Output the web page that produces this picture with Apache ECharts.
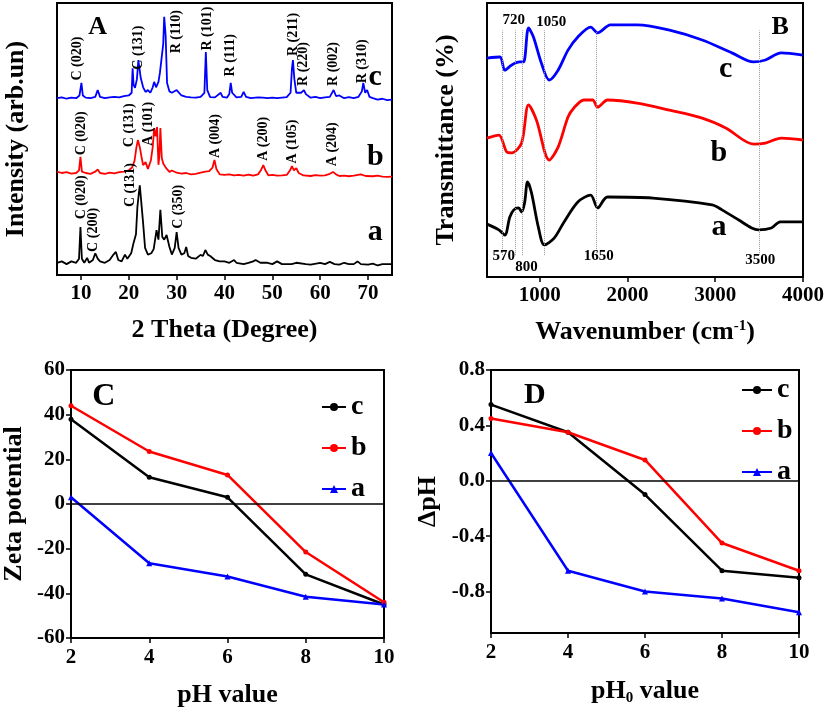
<!DOCTYPE html>
<html><head><meta charset="utf-8">
<script src="https://cdn.jsdelivr.net/npm/echarts@6/dist/echarts.min.js"></script>
<style>html,body{margin:0;padding:0;background:#fff}#c{width:827px;height:711px}</style>
</head><body><div id="c"></div>
<script>
// ---------- Panel A: XRD ----------
const xrdA = [[5,4.5],[6,5],[7,4],[8,5],[9,4.5],[9.6,6],[9.9,17.6],[10.2,6],[10.7,4.5],[11.3,6.3],[11.7,4.5],[12.5,5.5],[13,8],[13.5,6],[14,5],[15,4.5],[16,5.5],[16.8,7.5],[17.3,8.5],[17.8,5.5],[18.5,5],[19.2,7.5],[19.7,6],[20.5,8],[21,11.8],[21.5,15],[21.8,25],[22.1,30],[22.3,33],[22.6,27],[23,19],[23.4,10],[24,7.5],[24.7,8],[25.2,9.5],[25.8,16.5],[26.2,13],[26.6,24],[27,14],[27.4,13],[27.9,14.7],[28.5,10.3],[29,7.5],[29.6,10],[30,15.8],[30.4,10],[31,7.5],[31.6,8],[32,10.3],[32.4,7],[33,6.3],[34,6],[35,7.4],[35.5,7],[36,9.2],[36.5,7.5],[37,7],[38,5.5],[39,5],[40,5],[41,4.5],[42,5.5],[42.5,4.5],[44,4],[45,4.5],[46,5],[46.5,5.5],[47.5,4.5],[49,4.5],[50,4],[51,5],[52,4],[54,4],[55,4.5],[57,4],[58,3.8],[60,4.5],[61,4],[62,4.8],[63,4],[64,3.8],[65,4.5],[66,4],[67,4],[67.8,5],[68.5,4],[70,3.8],[71,4.2],[72,3.5],[73,4],[74,4],[75,4]];
const xrdB = [[5,38],[6,37.5],[7,37.8],[8,37.3],[9,37.5],[9.6,38.5],[9.9,43.4],[10.2,38],[11,37.5],[12,37.2],[13,38],[13.5,38.8],[14,37.5],[15,37.2],[16,37.6],[17,37.4],[18,37.8],[19,38],[20,38.5],[20.7,39.5],[21.2,42],[21.6,47],[21.9,49.6],[22.3,47],[22.7,43],[23,40.4],[23.5,41.5],[24,39],[24.6,42],[25,47],[25.3,54],[25.6,51],[25.9,54.4],[26.2,40.5],[26.4,44],[26.6,54],[26.9,43],[27.2,41],[27.8,39.3],[28.5,37.9],[29,38.4],[30,37.6],[31,37.3],[32,37.5],[33,37],[34,37.2],[35,37.6],[36,38],[36.8,38.2],[37.5,39.5],[37.9,42.3],[38.3,39],[39,37],[40,36.8],[41,37],[42,36.6],[43,36.8],[44,36.5],[45,36.9],[46,36.5],[47,37],[47.6,38.5],[48.1,40.4],[48.6,38.3],[49.2,36.6],[50,36.8],[51,36.5],[52,36.6],[53,36.8],[53.7,38.5],[54.1,40],[54.5,38.5],[55,39.3],[55.5,37.5],[56.5,36.6],[58,36.4],[59,36.7],[60,36.5],[61,36.6],[62,37.2],[62.7,37.9],[63.3,37],[64,36.4],[65,36.5],[66,36.3],[67,36.5],[68.5,37],[69.5,36.4],[71,36.3],[72,36.5],[73,36.2],[74,36.1],[75,36.2]];
const xrdC = [[5,65],[6,65.3],[7,64.8],[8,65.2],[9,65],[9.7,66],[10.1,70.6],[10.4,66],[11,65.2],[12,65],[13,65.5],[13.5,68],[14,65.5],[15,65],[16,65.3],[17,65.5],[18,65.3],[19,65.8],[20,66],[20.6,67],[20.8,76],[21,70],[21.3,68.8],[21.7,72],[22,79],[22.5,72.4],[23,69],[23.5,67.3],[24,68],[24.5,67],[25,69],[25.3,71],[25.7,69],[26.2,71],[26.5,74.3],[26.9,75],[27.2,85],[27.4,94.9],[27.7,88],[28,70.6],[28.5,67.5],[29,67],[30,68],[31,66],[32,65.5],[33,65.3],[34,65.2],[35,65.5],[35.8,67],[36.1,82],[36.4,68],[37,65.4],[38,65.3],[39.2,67],[39.6,65.5],[40.5,65.2],[41,66.5],[41.3,70.6],[41.6,67],[42.5,65.3],[43.5,65.5],[44,67.3],[44.5,65.5],[45.5,65],[47,65.3],[48,65.2],[49,65],[50,65.2],[51,65],[52,65.2],[53,65.4],[53.8,67],[54.1,76],[54.3,79],[54.6,72],[55,67],[56,67],[56.6,68],[57,66.5],[58,65.2],[59,65.5],[60,65],[61,65.3],[62,65.5],[62.8,68],[63.3,65.8],[64,66],[65,65],[66,65.4],[67,65],[68,65.5],[68.7,67.5],[69,70.6],[69.4,67],[69.8,68],[70.3,65.5],[71,65],[72,64.5],[73,64.8],[74,64.3],[75,64.5]];
const xrdTicks = [10,20,30,40,50,60,70];
const xrdPeakLabels = [
  [9.2,71.5,'C (020)'],[22.1,75.5,'C (131)'],[30,81.5,'R (110)'],[36.5,82.5,'R (101)'],[41.25,73,'R (111)'],
  [54.4,80.5,'R (211)'],[56.5,69.5,'R (220)'],[62.7,69.5,'R (002)'],[68.75,70.5,'R (310)'],
  [10,44,'C (020)'],[20.2,47,'C (131)'],[24,47.5,'A (101)'],[38.1,43,'A (004)'],[48.1,42,'A (200)'],[54.2,41,'A (105)'],[62.5,40,'A (204)'],
  [10.2,20.5,'C (020)'],[12.5,8.5,'C (200)'],[20.4,25,'C (131)'],[30.4,17,'C (350)']
];
const xrdTexts = [[13.5,91,'A',26],[71.5,72.8,'c',30],[71.5,43.4,'b',30],[71.5,15.8,'a',30]];

// ---------- Panel B: FTIR ----------
const ftirC = [[400,79.9],[547,80.3],[603,75.5],[682,77.4],[772,78.5],[817,78.5],[873,90.9],[929,87.6],[1019,78.1],[1109,71.9],[1210,75.5],[1323,82.8],[1435,87.6],[1581,91.2],[1660,89.1],[1806,92.0],[2110,92.0],[2480,90.1],[2852,86.5],[3190,81.8],[3437,78.5],[3572,79.2],[3752,81.8],[4000,81.0]];
const ftirB = [[400,50.7],[535,51.8],[626,45.6],[682,45.3],[794,48.9],[873,62.8],[963,57.3],[1109,42.7],[1210,47.4],[1323,58.4],[1390,61.7],[1503,64.6],[1604,64.6],[1660,62.0],[1773,64.6],[2110,63.5],[2480,60.9],[2852,58.0],[3120,54.4],[3437,48.5],[3572,48.9],[3752,50.7],[4000,50.0]];
const ftirA = [[400,19.3],[535,17.2],[603,15.3],[660,21.9],[705,24.5],[760,25.2],[794,23.7],[828,27.0],[862,34.7],[907,30.7],[985,18.2],[1053,11.7],[1165,14.2],[1278,20.1],[1435,27.4],[1581,29.9],[1660,25.2],[1773,29.2],[2290,28.8],[2965,26.3],[3077,24.5],[3268,20.8],[3415,17.9],[3493,17.2],[3640,17.9],[3740,20.1],[4000,20.1]];
const ftirTicks = [1000,2000,3000,4000];
const ftirBands = [570,720,800,1050,1650,3500];
const ftirBandLabels = [[704,93.8,'720'],[1132,93,'1050'],[592,7.7,'570'],[850,3.6,'800'],[1672,7.7,'1650'],[3514,6.2,'3500']];
const ftirTexts = [[3740,91,'B',26],[3120,76,'c',30],[3042,45,'b',30],[3042,18,'a',30]];

// ---------- Panel C: Zeta ----------
const phC = [2,4,6,8,10];
const zetaC = [38,12,3,-31.5,-45];
const zetaB = [44,23.5,13,-21.5,-44];
const zetaA = [3,-26.5,-32.5,-41.5,-45];

// ---------- Panel D: delta pH ----------
const phD = [2,4,6,8,10];
const dpHC = [0.55,0.35,-0.10,-0.65,-0.70];
const dpHB = [0.45,0.35,0.15,-0.45,-0.65];
const dpHA = [0.20,-0.65,-0.80,-0.85,-0.95];
const dpHTicks = [-0.8,-0.4,0,0.4,0.8];

const F = 'Liberation Serif';
const BLACK = '#000000', RED = '#ff0000', BLUE = '#0000ff';

const axisLine = {show:true, onZero:false, lineStyle:{color:'#000', width:2}};
const tick = {show:true, length:5, inside:false, lineStyle:{color:'#000', width:1.5}};
const tickLabel = {color:'#000', fontFamily:F, fontWeight:'bold', fontSize:21};
const nameStyle = {color:'#000', fontFamily:F, fontWeight:'bold', fontSize:26};

function textSeries(arr, xi, yi, opts) {
  return {
    type:'scatter', xAxisIndex:xi, yAxisIndex:yi, symbolSize:0, silent:true, z:10,
    itemStyle:{opacity:1},
    data: arr.map(t => ({value:[t[0], t[1]], name:t[2]})),
    label: Object.assign({show:true, position:'inside', formatter:'{b}', color:'#000', fontFamily:F, fontWeight:'bold'}, opts)
  };
}
function bigTextSeries(arr, xi, yi) {
  return {
    type:'scatter', xAxisIndex:xi, yAxisIndex:yi, symbolSize:0, silent:true, z:10,
    itemStyle:{opacity:1},
    data: arr.map(t => ({value:[t[0], t[1]], name:t[2], label:{fontSize:t[3], fontWeight:'bold', color:'#000'}})),
    label: {show:true, position:'inside', formatter:'{b}', color:'#000', fontFamily:F, fontWeight:'bold', align:'center', verticalAlign:'middle'}
  };
}

const option = {
  backgroundColor:'#fff',
  animation:false,
  grid:[
    {left:57, top:3, width:335, height:272, show:true, borderColor:'#000', borderWidth:2},
    {left:487, top:3, width:318, height:274, show:true, borderColor:'#000', borderWidth:2},
    {left:70, top:370, width:314, height:268, show:true, borderColor:'#000', borderWidth:2},
    {left:491, top:370, width:308, height:263, show:true, borderColor:'#000', borderWidth:2}
  ],
  xAxis:[
    {gridIndex:0, type:'value', min:5, max:75, axisLine, axisTick:Object.assign({customValues:xrdTicks}, tick),
     axisLabel:Object.assign({customValues:xrdTicks, margin:8}, tickLabel), splitLine:{show:false},
     name:'2 Theta (Degree)', nameLocation:'middle', nameGap:42, nameTextStyle:nameStyle},
    {gridIndex:1, type:'value', min:400, max:4000, axisLine, axisTick:Object.assign({customValues:ftirTicks}, tick),
     axisLabel:Object.assign({customValues:ftirTicks, margin:8, formatter:v => String(v)}, tickLabel), splitLine:{show:false},
     name:'{a|Wavenumber (cm}{s|-1}{a|)}', nameLocation:'middle', nameGap:42,
     nameTextStyle:{rich:{a:nameStyle, s:{color:'#000', fontFamily:F, fontWeight:'bold', fontSize:15, verticalAlign:'top', padding:[0,0,12,0]}}}},
    {gridIndex:2, type:'value', min:2, max:10, interval:2, axisLine, axisTick:tick,
     axisLabel:Object.assign({margin:9}, tickLabel), splitLine:{show:false},
     name:'pH value', nameLocation:'middle', nameGap:44, nameTextStyle:nameStyle},
    {gridIndex:3, type:'value', min:2, max:10, interval:2, axisLine, axisTick:tick,
     axisLabel:Object.assign({margin:9}, tickLabel), splitLine:{show:false},
     name:'{a|pH}{s|0}{a| value}', nameLocation:'middle', nameGap:44,
     nameTextStyle:{rich:{a:nameStyle, s:{color:'#000', fontFamily:F, fontWeight:'bold', fontSize:15, padding:[14,0,0,0]}}}}
  ],
  yAxis:[
    {gridIndex:0, type:'value', min:0, max:100, axisLine, axisTick:{show:false}, axisLabel:{show:false}, splitLine:{show:false},
     name:'Intensity (arb.un)', nameLocation:'middle', nameGap:28, nameTextStyle:nameStyle},
    {gridIndex:1, type:'value', min:0, max:100, axisLine, axisTick:{show:false}, axisLabel:{show:false}, splitLine:{show:false},
     name:'Transmittance (%)', nameLocation:'middle', nameGap:28, nameTextStyle:nameStyle},
    {gridIndex:2, type:'value', min:-60, max:60, interval:20, axisLine, axisTick:tick,
     axisLabel:Object.assign({margin:6}, tickLabel), splitLine:{show:false},
     name:'Zeta potential', nameLocation:'middle', nameGap:44, nameTextStyle:nameStyle},
    {gridIndex:3, type:'value', min:-1.1, max:0.8, axisLine, axisTick:Object.assign({customValues:dpHTicks}, tick),
     axisLabel:Object.assign({customValues:dpHTicks, margin:6, formatter:v => v.toFixed(1)}, tickLabel), splitLine:{show:false},
     name:'ΔpH', nameLocation:'middle', nameGap:50, nameTextStyle:nameStyle}
  ],
  legend:[
    {data:['c','b','a'], orient:'vertical', left:316, top:388, itemWidth:24, itemHeight:10, itemGap:13,
     textStyle:{color:'#000', fontFamily:F, fontWeight:'bold', fontSize:28}, selectedMode:false},
    {data:['c','b','a'], orient:'vertical', left:736, top:371, itemWidth:30, itemHeight:10, itemGap:13,
     textStyle:{color:'#000', fontFamily:F, fontWeight:'bold', fontSize:28}, selectedMode:false}
  ],
  series:[
    // XRD
    {type:'line', name:'XRD a', xAxisIndex:0, yAxisIndex:0, data:xrdA, showSymbol:false, lineStyle:{color:BLACK, width:1.8}, itemStyle:{color:BLACK}},
    {type:'line', name:'XRD b', xAxisIndex:0, yAxisIndex:0, data:xrdB, showSymbol:false, lineStyle:{color:RED, width:1.8}, itemStyle:{color:RED}},
    {type:'line', name:'XRD c', xAxisIndex:0, yAxisIndex:0, data:xrdC, showSymbol:false, lineStyle:{color:BLUE, width:1.8}, itemStyle:{color:BLUE}},
    textSeries(xrdPeakLabels, 0, 0, {rotate:90, align:'left', verticalAlign:'middle', fontSize:14}),
    bigTextSeries(xrdTexts, 0, 0),
    // FTIR
    {type:'line', name:'FTIR c', xAxisIndex:1, yAxisIndex:1, data:ftirC, smooth:0.3, showSymbol:false, lineStyle:{color:BLUE, width:2.8}, itemStyle:{color:BLUE},
     markLine:{silent:true, symbol:'none', label:{show:false}, lineStyle:{type:'dotted', color:'#999', width:1},
       data: ftirBands.map(b => [{coord:[b, 8]}, {coord:[b, 90]}])}},
    {type:'line', name:'FTIR b', xAxisIndex:1, yAxisIndex:1, data:ftirB, smooth:0.3, showSymbol:false, lineStyle:{color:RED, width:2.8}, itemStyle:{color:RED}},
    {type:'line', name:'FTIR a', xAxisIndex:1, yAxisIndex:1, data:ftirA, smooth:0.3, showSymbol:false, lineStyle:{color:BLACK, width:2.8}, itemStyle:{color:BLACK}},
    textSeries(ftirBandLabels, 1, 1, {align:'center', verticalAlign:'middle', fontSize:15}),
    bigTextSeries(ftirTexts, 1, 1),
    // Zeta
    {type:'line', name:'c', xAxisIndex:2, yAxisIndex:2, data:phC.map((x,i)=>[x,zetaC[i]]), symbol:'circle', symbolSize:5, lineStyle:{color:BLACK, width:2.5}, itemStyle:{color:BLACK},
     markLine:{silent:true, symbol:'none', label:{show:false}, lineStyle:{type:'solid', color:'#000', width:1.5}, data:[{yAxis:0}]}},
    {type:'line', name:'b', xAxisIndex:2, yAxisIndex:2, data:phC.map((x,i)=>[x,zetaB[i]]), symbol:'circle', symbolSize:5, lineStyle:{color:RED, width:2.5}, itemStyle:{color:RED}},
    {type:'line', name:'a', xAxisIndex:2, yAxisIndex:2, data:phC.map((x,i)=>[x,zetaA[i]]), symbol:'triangle', symbolSize:6, lineStyle:{color:BLUE, width:2.5}, itemStyle:{color:BLUE}},
    bigTextSeries([[2.84,47.9,'C',32]], 2, 2),
    // delta pH
    {type:'line', name:'c', xAxisIndex:3, yAxisIndex:3, data:phD.map((x,i)=>[x,dpHC[i]]), symbol:'circle', symbolSize:5, lineStyle:{color:BLACK, width:2.5}, itemStyle:{color:BLACK},
     markLine:{silent:true, symbol:'none', label:{show:false}, lineStyle:{type:'solid', color:'#000', width:1.5}, data:[{yAxis:0}]}},
    {type:'line', name:'b', xAxisIndex:3, yAxisIndex:3, data:phD.map((x,i)=>[x,dpHB[i]]), symbol:'circle', symbolSize:5, lineStyle:{color:RED, width:2.5}, itemStyle:{color:RED}},
    {type:'line', name:'a', xAxisIndex:3, yAxisIndex:3, data:phD.map((x,i)=>[x,dpHA[i]]), symbol:'triangle', symbolSize:6, lineStyle:{color:BLUE, width:2.5}, itemStyle:{color:BLUE}},
    bigTextSeries([[3.14,0.62,'D',30]], 3, 3)
  ]
};
const chart = echarts.init(document.getElementById('c'), null, {renderer:'canvas'});
chart.setOption(option);
</script></body></html>
